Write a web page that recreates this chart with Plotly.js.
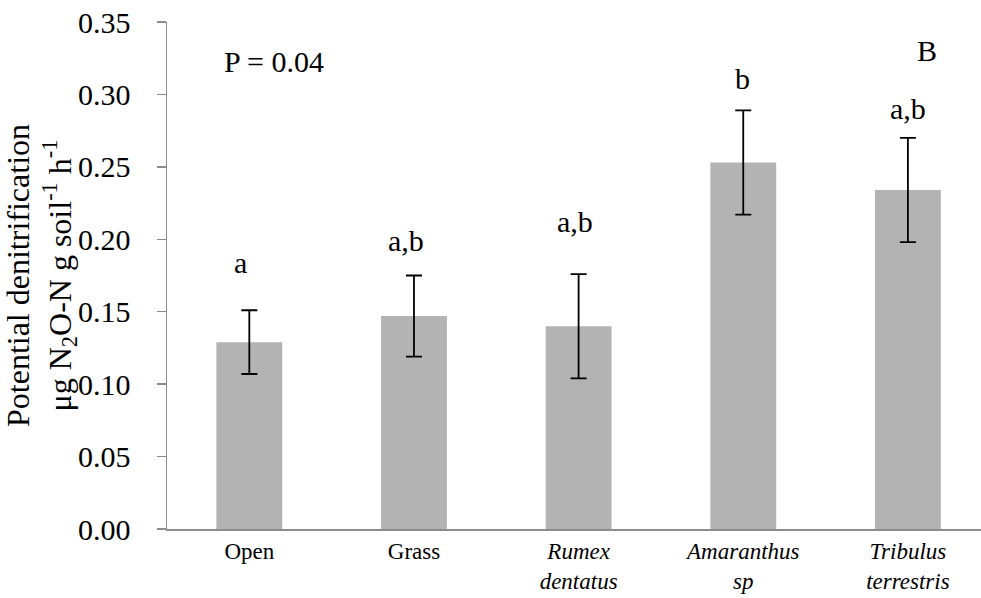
<!DOCTYPE html>
<html>
<head>
<meta charset="utf-8">
<script src="https://cdn.plot.ly/plotly-3.0.1.min.js"></script>
<style>
  html, body { margin: 0; padding: 0; background: #ffffff; }
  #chart { width: 981px; height: 598px; }
</style>
</head>
<body>
<div id="chart"></div>
<script>
// Potential denitrification by ground cover (mean ± SE)
const categories = ["Open", "Grass", "Rumex dentatus", "Amaranthus sp", "Tribulus terrestris"];
const tickLabels = ["Open", "Grass", "<i>Rumex</i><br><i>dentatus</i>", "<i>Amaranthus</i><br><i>sp</i>", "<i>Tribulus</i><br><i>terrestris</i>"];
const means = [0.129, 0.147, 0.140, 0.253, 0.234];
const errors = [0.022, 0.028, 0.036, 0.036, 0.036];
const groupLetters = ["a", "a,b", "a,b", "b", "a,b"];
// letter positions (category index offset, height on value axis)
const letterX = [-0.054, 0.954, 1.979, 2.993, 4.0];
const letterY = [0.184, 0.1995, 0.212, 0.311, 0.2906];

const serif = 'Liberation Serif, Times New Roman, Times, serif';
const axisGray = '#8c8c8c';

const trace = {
  type: 'bar',
  x: categories,
  y: means,
  width: 0.4,
  marker: { color: '#b3b3b3', line: { width: 0 } },
  error_y: {
    type: 'data',
    array: errors,
    visible: true,
    color: '#000000',
    thickness: 1.8,
    width: 8
  },
  hoverinfo: 'x+y'
};

const annotations = groupLetters.map((t, i) => ({
  x: letterX[i], y: letterY[i], xref: 'x', yref: 'y',
  text: t, showarrow: false,
  xanchor: 'center', yanchor: 'middle',
  font: { family: serif, size: 30, color: '#000000' }
}));

annotations.push({
  x: -0.169, y: 0.3224, xref: 'x', yref: 'y',
  text: 'P = 0.04', showarrow: false,
  xanchor: 'left', yanchor: 'middle',
  font: { family: serif, size: 30, color: '#000000' }
});
annotations.push({
  x: 4.116, y: 0.330, xref: 'x', yref: 'y',
  text: 'B', showarrow: false,
  xanchor: 'center', yanchor: 'middle',
  font: { family: serif, size: 30, color: '#000000' }
});

const layout = {
  width: 981,
  height: 598,
  margin: { l: 166.5, r: 0, t: 22, b: 69, pad: 0 },
  paper_bgcolor: '#ffffff',
  plot_bgcolor: '#ffffff',
  font: { family: serif, color: '#000000' },
  showlegend: false,
  bargap: 0.6,
  xaxis: {
    type: 'category',
    categoryorder: 'array',
    categoryarray: categories,
    tickvals: categories,
    ticktext: tickLabels,
    range: [-0.5, 4.444],
    showline: true,
    linecolor: axisGray,
    linewidth: 1.5,
    ticks: '',
    showgrid: false,
    zeroline: false,
    ticklabelstandoff: 1,
    tickfont: { family: serif, size: 23, color: '#000000' }
  },
  yaxis: {
    range: [0, 0.35],
    tickvals: [0, 0.05, 0.10, 0.15, 0.20, 0.25, 0.30, 0.35],
    tickformat: '.2f',
    showline: true,
    linecolor: axisGray,
    linewidth: 1.5,
    ticks: 'outside',
    ticklen: 9,
    tickwidth: 1.5,
    tickcolor: axisGray,
    showgrid: false,
    zeroline: false,
    ticklabelstandoff: 20,
    tickfont: { family: serif, size: 30, color: '#000000' },
    title: {
      text: 'Potential denitrification<br>μg N<sub>2</sub>O-N g soil<sup>-1</sup> h<sup>-1</sup>',
      font: { family: serif, size: 32, color: '#000000' },
      standoff: 0
    }
  },
  annotations: annotations
};

Plotly.newPlot('chart', [trace], layout, { displayModeBar: false, staticPlot: true });
</script>
</body>
</html>
